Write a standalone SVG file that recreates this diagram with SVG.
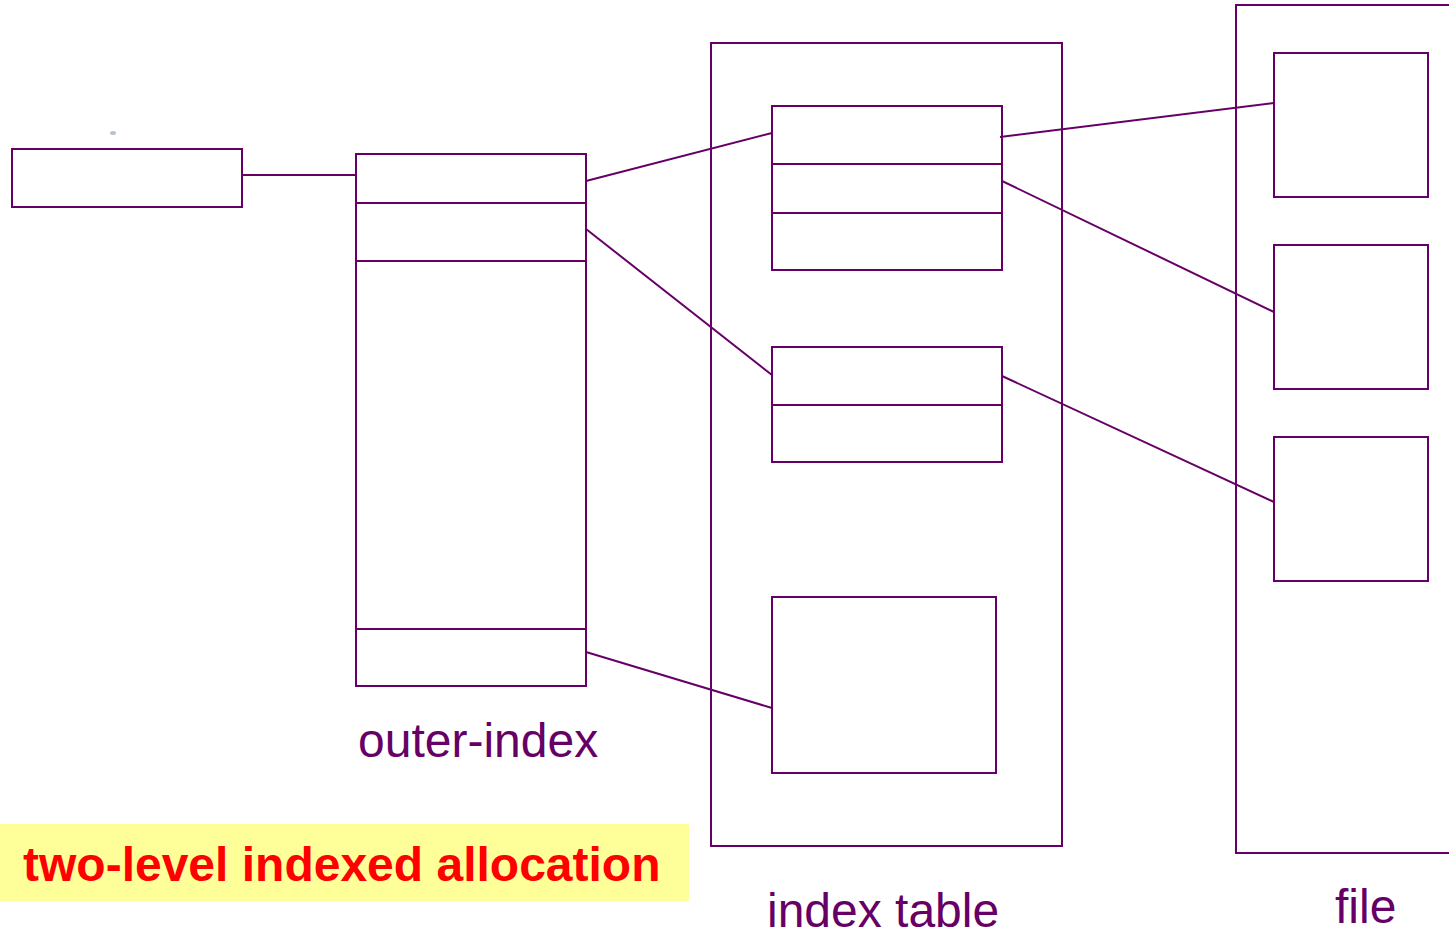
<svg xmlns="http://www.w3.org/2000/svg" width="1449" height="931" viewBox="0 0 1449 931">
  <style>
    .box { fill: #ffffff; stroke: #660066; stroke-width: 2; }
    .open { fill: none; stroke: #660066; stroke-width: 2; }
    .link { fill: none; stroke: #660066; stroke-width: 2; }
    .label { font-family: "Liberation Sans", Arial, sans-serif; font-size: 48px; fill: #660066; }
    .title { font-family: "Liberation Sans", Arial, sans-serif; font-size: 48px; font-weight: bold; fill: #ff0000; }
  </style>
  <rect width="1449" height="931" fill="#ffffff"/>

  <!-- stray mark -->
  <ellipse cx="113" cy="133" rx="3" ry="2" fill="#b8c4d4"/>

  <!-- index table frame -->
  <g id="index-table">
    <rect class="box" x="711" y="43" width="351" height="803"/>
    <text class="label" x="767" y="927">index table</text>
  </g>

  <!-- file frame (open to the right) -->
  <g id="file">
    <path class="open" d="M1450 5 H1236 V853 H1450"/>
    <text class="label" x="1335" y="923">file</text>
  </g>

  <g id="file-pointer">
    <rect class="box" x="12" y="149" width="230" height="58"/>
  </g>

  <g id="outer-index">
    <rect class="box" x="356" y="154" width="230" height="532"/>
    <line class="link" x1="356" y1="203" x2="586" y2="203"/>
    <line class="link" x1="356" y1="261" x2="586" y2="261"/>
    <line class="link" x1="356" y1="629" x2="586" y2="629"/>
    <text class="label" x="358" y="757">outer-index</text>
  </g>

  <g id="inner-index-1">
    <rect class="box" x="772" y="106" width="230" height="164"/>
    <line class="link" x1="772" y1="164" x2="1002" y2="164"/>
    <line class="link" x1="772" y1="213" x2="1002" y2="213"/>
  </g>

  <g id="inner-index-2">
    <rect class="box" x="772" y="347" width="230" height="115"/>
    <line class="link" x1="772" y1="405" x2="1002" y2="405"/>
  </g>

  <g id="inner-index-3">
    <rect class="box" x="772" y="597" width="224" height="176"/>
  </g>

  <g id="block-1"><rect class="box" x="1274" y="53" width="154" height="144"/></g>
  <g id="block-2"><rect class="box" x="1274" y="245" width="154" height="144"/></g>
  <g id="block-3"><rect class="box" x="1274" y="437" width="154" height="144"/></g>

  <g id="connectors">
    <line class="link" x1="243" y1="175" x2="356" y2="175"/>
    <line class="link" x1="586" y1="181" x2="772" y2="133"/>
    <line class="link" x1="586" y1="229" x2="772" y2="375"/>
    <line class="link" x1="586" y1="652" x2="772" y2="708"/>
    <line class="link" x1="1000" y1="137" x2="1274" y2="103"/>
    <line class="link" x1="1002" y1="181" x2="1274" y2="312"/>
    <line class="link" x1="1002" y1="376" x2="1274" y2="502"/>
  </g>

  <g id="caption">
    <rect x="0" y="824" width="689" height="77" fill="#ffff99"/>
    <text class="title" x="23" y="881">two-level indexed allocation</text>
  </g>
</svg>
